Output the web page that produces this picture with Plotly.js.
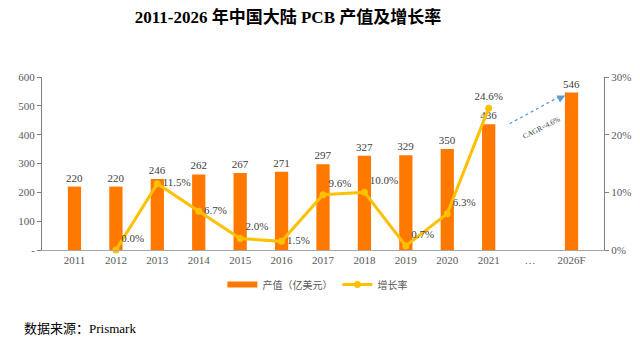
<!DOCTYPE html>
<html><head><meta charset="utf-8">
<script src="https://cdn.plot.ly/plotly-3.0.1.min.js"></script>
<style>html,body{margin:0;padding:0;background:#fff}#chart{width:640px;height:343px}</style>
</head><body><div id="chart"></div>
<script>
const categories = ['2011','2012','2013','2014','2015','2016','2017','2018','2019','2020','2021','…','2026F'];
const output = [220,220,246,262,267,271,297,327,329,350,436,null,546];
const growth = [null,0.0,11.5,6.7,2.0,1.5,9.6,10.0,0.7,6.3,24.6,null,null];
const growthLabelPos = ['middle right','top right','middle right','middle right','top right','middle right','top right','top right','top right','top right','top center','middle right','middle right'];
const leftTicks = [0,100,200,300,400,500,600];
const leftTickText = ['-','100','200','300','400','500','600'];
const rightTicks = [0,10,20,30];
const rightTickText = ['0%','10%','20%','30%'];

const CJK = '"Liberation Serif","Noto Sans CJK SC",serif';
const gray = '#595959';
const orange = '#FF7800';
const gold = '#FFC000';

const bar = {
  type:'bar', x:categories, y:output, name:'产值（亿美元）', showlegend:false,
  marker:{color:orange},
  text: output.map(v => v==null ? '' : String(v)),
  textposition:'outside', cliponaxis:false, constraintext:'none',
  textfont:{family:CJK, size:11, color:'#404040'},
  hoverinfo:'skip'
};
const barLegend = {
  type:'scatter', mode:'lines', x:[null], y:[null], name:'产值（亿美元）',
  line:{color:orange, width:6}, hoverinfo:'skip'
};
const line = {
  type:'scatter', mode:'lines+markers+text', x:categories, y:growth, yaxis:'y2',
  name:'增长率', connectgaps:false,
  line:{color:gold, width:3},
  marker:{color:gold, size:7},
  text: growth.map(v => v==null ? '' : v.toFixed(1)+'%'),
  textposition: growthLabelPos, cliponaxis:false,
  textfont:{family:CJK, size:11, color:'#404040'},
  hoverinfo:'skip'
};

const layout = {
  width:640, height:343,
  margin:{l:42, r:36, t:77, b:93},
  paper_bgcolor:'#fff', plot_bgcolor:'#fff',
  bargap:0.68,
  showlegend:true,
  title:{text:'<b>2011-2026 年中国大陆 PCB 产值及增长率</b>', x:0.45, xanchor:'center', y:0.95, yanchor:'middle',
    font:{family:CJK, size:17, color:'#000'}},
  xaxis:{type:'category', showline:true, linecolor:'#A6A6A6', linewidth:1, ticks:'', showgrid:false,
    tickfont:{family:CJK, size:11, color:gray}, fixedrange:true},
  yaxis:{range:[0,600], tickvals:leftTicks, ticktext:leftTickText, showgrid:false, zeroline:false,
    showline:true, linecolor:'#808080', ticks:'outside', ticklen:4, tickcolor:'#808080',
    tickfont:{family:CJK, size:11, color:gray}},
  yaxis2:{range:[0,30], overlaying:'y', side:'right', tickvals:rightTicks, ticktext:rightTickText, showgrid:false, zeroline:false,
    showline:true, linecolor:'#808080', ticks:'outside', ticklen:4, tickcolor:'#808080',
    tickfont:{family:CJK, size:11, color:gray}},
  legend:{orientation:'h', x:0.49, xanchor:'center', y:-0.2, yanchor:'middle',
    font:{family:CJK, size:10, color:gray}, itemwidth:30},
  shapes:[
    {type:'line', xref:'paper', yref:'paper', x0:0.832, y0:0.73, x1:0.92, y1:0.885,
     line:{color:'#5B9BD5', width:1.3, dash:'dot'}}
  ],
  annotations:[
    {xref:'paper', yref:'paper', x:0.931, y:0.893, ax:-8, ay:4, showarrow:true, arrowhead:2, arrowsize:1.2,
     arrowwidth:1.3, arrowcolor:'#5B9BD5', text:''},
    {xref:'paper', yref:'paper', x:0.93, y:0.80, text:'CAGR=4.6%', showarrow:false, textangle:-27,
     font:{family:CJK, size:7.5, color:'#404040'}},
    {xref:'paper', yref:'paper', x:-0.035, y:-0.455, xanchor:'left', yanchor:'middle', showarrow:false,
     text:'数据来源：Prismark', font:{family:CJK, size:13, color:'#000'}}
  ]
};

Plotly.newPlot('chart',[barLegend,bar,line],layout,{displayModeBar:false,staticPlot:true});
</script></body></html>
